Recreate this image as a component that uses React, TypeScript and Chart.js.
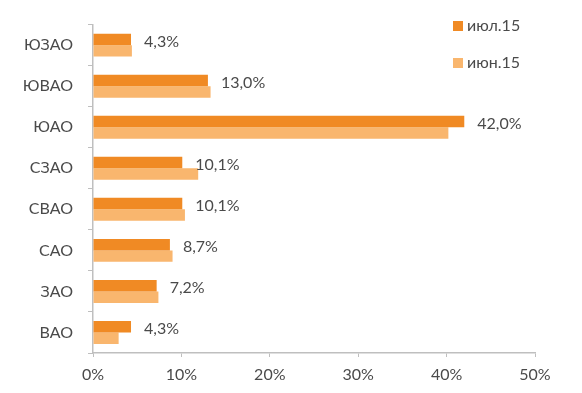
import React, { useEffect, useRef } from "react";
import { Chart, registerables } from "chart.js";

Chart.register(...registerables);

const categories = ["ЮЗАО", "ЮВАО", "ЮАО", "СЗАО", "СВАО", "САО", "ЗАО", "ВАО"];
const julyValues = [4.3, 13.0, 42.0, 10.1, 10.1, 8.7, 7.2, 4.3];
const juneValues = [4.4, 13.3, 40.2, 11.9, 10.4, 9.0, 7.4, 2.9];
const seriesLabels = ["июл.15", "июн.15"];
const xTicks = [0, 10, 20, 30, 40, 50];

const DARK = "#F08A24";
const LIGHT = "#F9B66E";
const TEXT = "#4A4A4A";
const AXIS = "#BFBFBF";
const FONT = "Lato, 'Open Sans', sans-serif";
const FS = 16;

const valueLabels = {
  id: "valueLabels",
  afterDatasetsDraw(chart: any) {
    const ctx = chart.ctx;
    const meta = chart.getDatasetMeta(0);
    const data = chart.data.datasets[0].data as number[];
    ctx.save();
    ctx.font = `${FS}px ${FONT}`;
    ctx.fillStyle = TEXT;
    ctx.textAlign = "left";
    ctx.textBaseline = "middle";
    meta.data.forEach((el: any, i: number) => {
      const txt = data[i].toFixed(1).replace(".", ",") + "%";
      ctx.fillText(txt, el.x + 13, el.y + 2);
    });
    ctx.restore();
  },
};

const sideLegend = {
  id: "sideLegend",
  afterDraw(chart: any) {
    const ctx = chart.ctx;
    ctx.save();
    ctx.font = `${FS}px ${FONT}`;
    ctx.textAlign = "left";
    ctx.textBaseline = "middle";
    chart.data.datasets.forEach((ds: any, i: number) => {
      const cy = 26 + i * 37;
      ctx.fillStyle = ds.backgroundColor;
      ctx.fillRect(453, cy - 5, 10, 10);
      ctx.fillStyle = TEXT;
      ctx.fillText(ds.label, 467, cy);
    });
    ctx.restore();
  },
};

export default function App() {
  const ref = useRef<HTMLCanvasElement>(null);
  useEffect(() => {
    document.body.style.margin = "0";
    const chart = new Chart(ref.current!, {
      type: "bar",
      data: {
        labels: categories,
        datasets: [
          { label: seriesLabels[0], data: julyValues, backgroundColor: DARK, categoryPercentage: 0.56, barPercentage: 1 },
          { label: seriesLabels[1], data: juneValues, backgroundColor: LIGHT, categoryPercentage: 0.56, barPercentage: 1 },
        ],
      },
      options: {
        indexAxis: "y",
        animation: false,
        responsive: false,
        layout: { padding: { top: 20, right: 47, left: 0, bottom: 0 } },
        plugins: { legend: { display: false }, tooltip: { enabled: false } },
        scales: {
          x: {
            min: 0,
            max: 50,
            afterBuildTicks(scale: any) {
              scale.ticks = xTicks.map((v) => ({ value: v }));
            },
            afterFit(scale: any) {
              scale.height = 40;
            },
            border: { color: AXIS, width: 1.5 },
            grid: { drawOnChartArea: false, tickLength: 4, color: AXIS },
            ticks: {
              color: TEXT,
              font: { family: FONT, size: FS },
              padding: 8,
              callback: (v: any) => `${v}%`,
            },
          },
          y: {
            afterFit(scale: any) {
              scale.width = 93;
            },
            border: { color: AXIS, width: 1.5 },
            grid: { drawOnChartArea: false, tickLength: 5, color: AXIS, offset: true },
            ticks: { color: TEXT, font: { family: FONT, size: FS }, padding: 15 },
          },
        },
      },
      plugins: [valueLabels, sideLegend],
    });
    return () => chart.destroy();
  }, []);
  return <canvas ref={ref} width={582} height={393} style={{ display: "block" }} />;
}
